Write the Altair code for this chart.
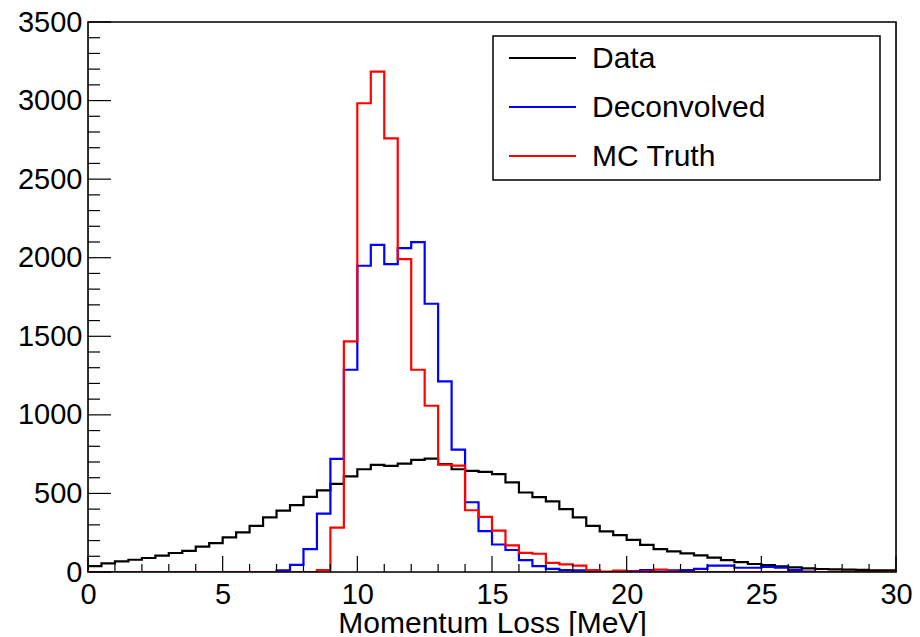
import altair as alt
import pandas as pd
import numpy as np

# ---------------- data (60 bins of 0.5 MeV, 0 to 30 MeV) ----------------
BIN_LOW = [i * 0.5 for i in range(60)]

DATA = [38, 55, 68, 78, 89, 104, 121, 135, 161, 184,
        220, 252, 294, 347, 390, 426, 478, 520, 561, 608,
        654, 682, 675, 690, 713, 722, 686, 654, 644, 637,
        623, 570, 506, 476, 450, 400, 347, 294, 258, 235,
        205, 172, 146, 131, 118, 106, 91, 76, 63, 51,
        44, 36, 30, 23, 19, 17, 15, 13, 11, 10]

DECONVOLVED = [0, 0, 0, 0, 0, 0, 0, 0, 0, 0,
               0, 0, 0, 0, 10, 45, 146, 372, 720, 1287,
               1949, 2082, 1959, 2061, 2099, 1707, 1213, 779, 444, 260,
               175, 140, 76, 37, 20, 12, 10, 3, 0, 3,
               5, 12, 3, 10, 12, 20, 41, 41, 27, 27,
               33, 27, 12, 3, 0, 0, 0, 0, 0, 0]

MC_TRUTH = [0, 0, 0, 0, 0, 0, 0, 0, 0, 0,
            0, 0, 0, 0, 0, 0, 0, 12, 283, 1467,
            2983, 3184, 2760, 1991, 1287, 1058, 683, 677, 393, 351,
            263, 170, 122, 116, 58, 48, 41, 12, 2, 9,
            3, 3, 16, 2, 0, 0, 0, 0, 0, 0,
            0, 0, 0, 0, 0, 0, 0, 0, 0, 0]

SERIES = ["Data", "Deconvolved", "MC Truth"]
COLORS = ["#000000", "#0000ff", "#ff0000"]

X_MAJOR = [0, 5, 10, 15, 20, 25, 30]
X_MINOR = [v for v in range(0, 31) if v % 5 != 0]
Y_MAJOR = [0, 500, 1000, 1500, 2000, 2500, 3000, 3500]
Y_MINOR = [v for v in range(0, 3501, 100) if v % 500 != 0]

W, H = 808, 550
FONT = "Liberation Sans"

xscale = alt.Scale(domain=[0, 30], nice=False, zero=False)
yscale = alt.Scale(domain=[0, 3500], nice=False)


def hist_df(values, name):
    xs = BIN_LOW + [30.0]
    ys = list(values) + [values[-1]]
    return pd.DataFrame({"x": xs, "y": ys, "series": name})


xaxis = alt.Axis(values=X_MAJOR, ticks=False, domain=False, grid=False, format="d",
                 labelFontSize=29, labelFont=FONT, labelColor="black",
                 labelPadding=8, labelFlush=False, labelOverlap=False,
                 title="Momentum Loss [MeV]", titleFontSize=30, titleFont=FONT,
                 titleFontWeight="normal", titleColor="black", titlePadding=-1)
yaxis = alt.Axis(values=Y_MAJOR, ticks=False, domain=False, grid=False, format="d",
                 labelFontSize=29, labelFont=FONT, labelColor="black",
                 labelPadding=6, labelFlush=False, labelOverlap=False, title=None)

layers = []
for vals, name, col in zip([DATA, DECONVOLVED, MC_TRUTH], SERIES, COLORS):
    ch = alt.Chart(hist_df(vals, name)).mark_line(
        interpolate="step-after", color=col, strokeWidth=2.2, clip=True
    ).encode(
        x=alt.X("x:Q", scale=xscale, axis=xaxis),
        y=alt.Y("y:Q", scale=yscale, axis=yaxis),
    )
    layers.append(ch)

# inward ticks (ROOT style)
ymaj = alt.Chart(pd.DataFrame({"y": Y_MAJOR})).mark_rule(color="black", strokeWidth=1.2).encode(
    y=alt.Y("y:Q", scale=yscale, axis=yaxis), x=alt.value(0), x2=alt.value(23))
ymin = alt.Chart(pd.DataFrame({"y": Y_MINOR})).mark_rule(color="black", strokeWidth=1.2).encode(
    y=alt.Y("y:Q", scale=yscale, axis=yaxis), x=alt.value(0), x2=alt.value(12))
xmaj = alt.Chart(pd.DataFrame({"x": X_MAJOR})).mark_rule(color="black", strokeWidth=1.2).encode(
    x=alt.X("x:Q", scale=xscale, axis=xaxis), y=alt.value(H), y2=alt.value(H - 16))
xmin = alt.Chart(pd.DataFrame({"x": X_MINOR})).mark_rule(color="black", strokeWidth=1.2).encode(
    x=alt.X("x:Q", scale=xscale, axis=xaxis), y=alt.value(H), y2=alt.value(H - 8))

one = pd.DataFrame({"a": [0]})
frame = alt.Chart(one).mark_rect(fill=None, stroke="black", strokeWidth=1.6).encode(
    x=alt.value(0), x2=alt.value(W), y=alt.value(0), y2=alt.value(H))

# legend box
box = alt.Chart(one).mark_rect(fill="white", stroke="black", strokeWidth=1.5).encode(
    x=alt.value(405), x2=alt.value(792), y=alt.value(14), y2=alt.value(158))
leg_layers = [box]
for k, (name, col) in enumerate(zip(SERIES, COLORS)):
    yy = 36 + 49 * k
    leg_layers.append(alt.Chart(one).mark_rule(color=col, strokeWidth=2.2).encode(
        x=alt.value(421), x2=alt.value(488), y=alt.value(yy)))
    leg_layers.append(alt.Chart(one).mark_text(
        text=name, align="left", baseline="middle", fontSize=30, font=FONT, color="black"
    ).encode(x=alt.value(504), y=alt.value(yy + 1)))

chart = alt.layer(*layers, ymaj, ymin, xmaj, xmin, frame, *leg_layers).properties(
    width=W, height=H,
    autosize=alt.AutoSizeParams(type="none"),
    padding={"left": 80, "top": 14, "right": 16, "bottom": 64},
).configure_view(stroke=None).configure(background="white")

chart.save("out.html", embed_options={"renderer": "svg", "actions": False})
